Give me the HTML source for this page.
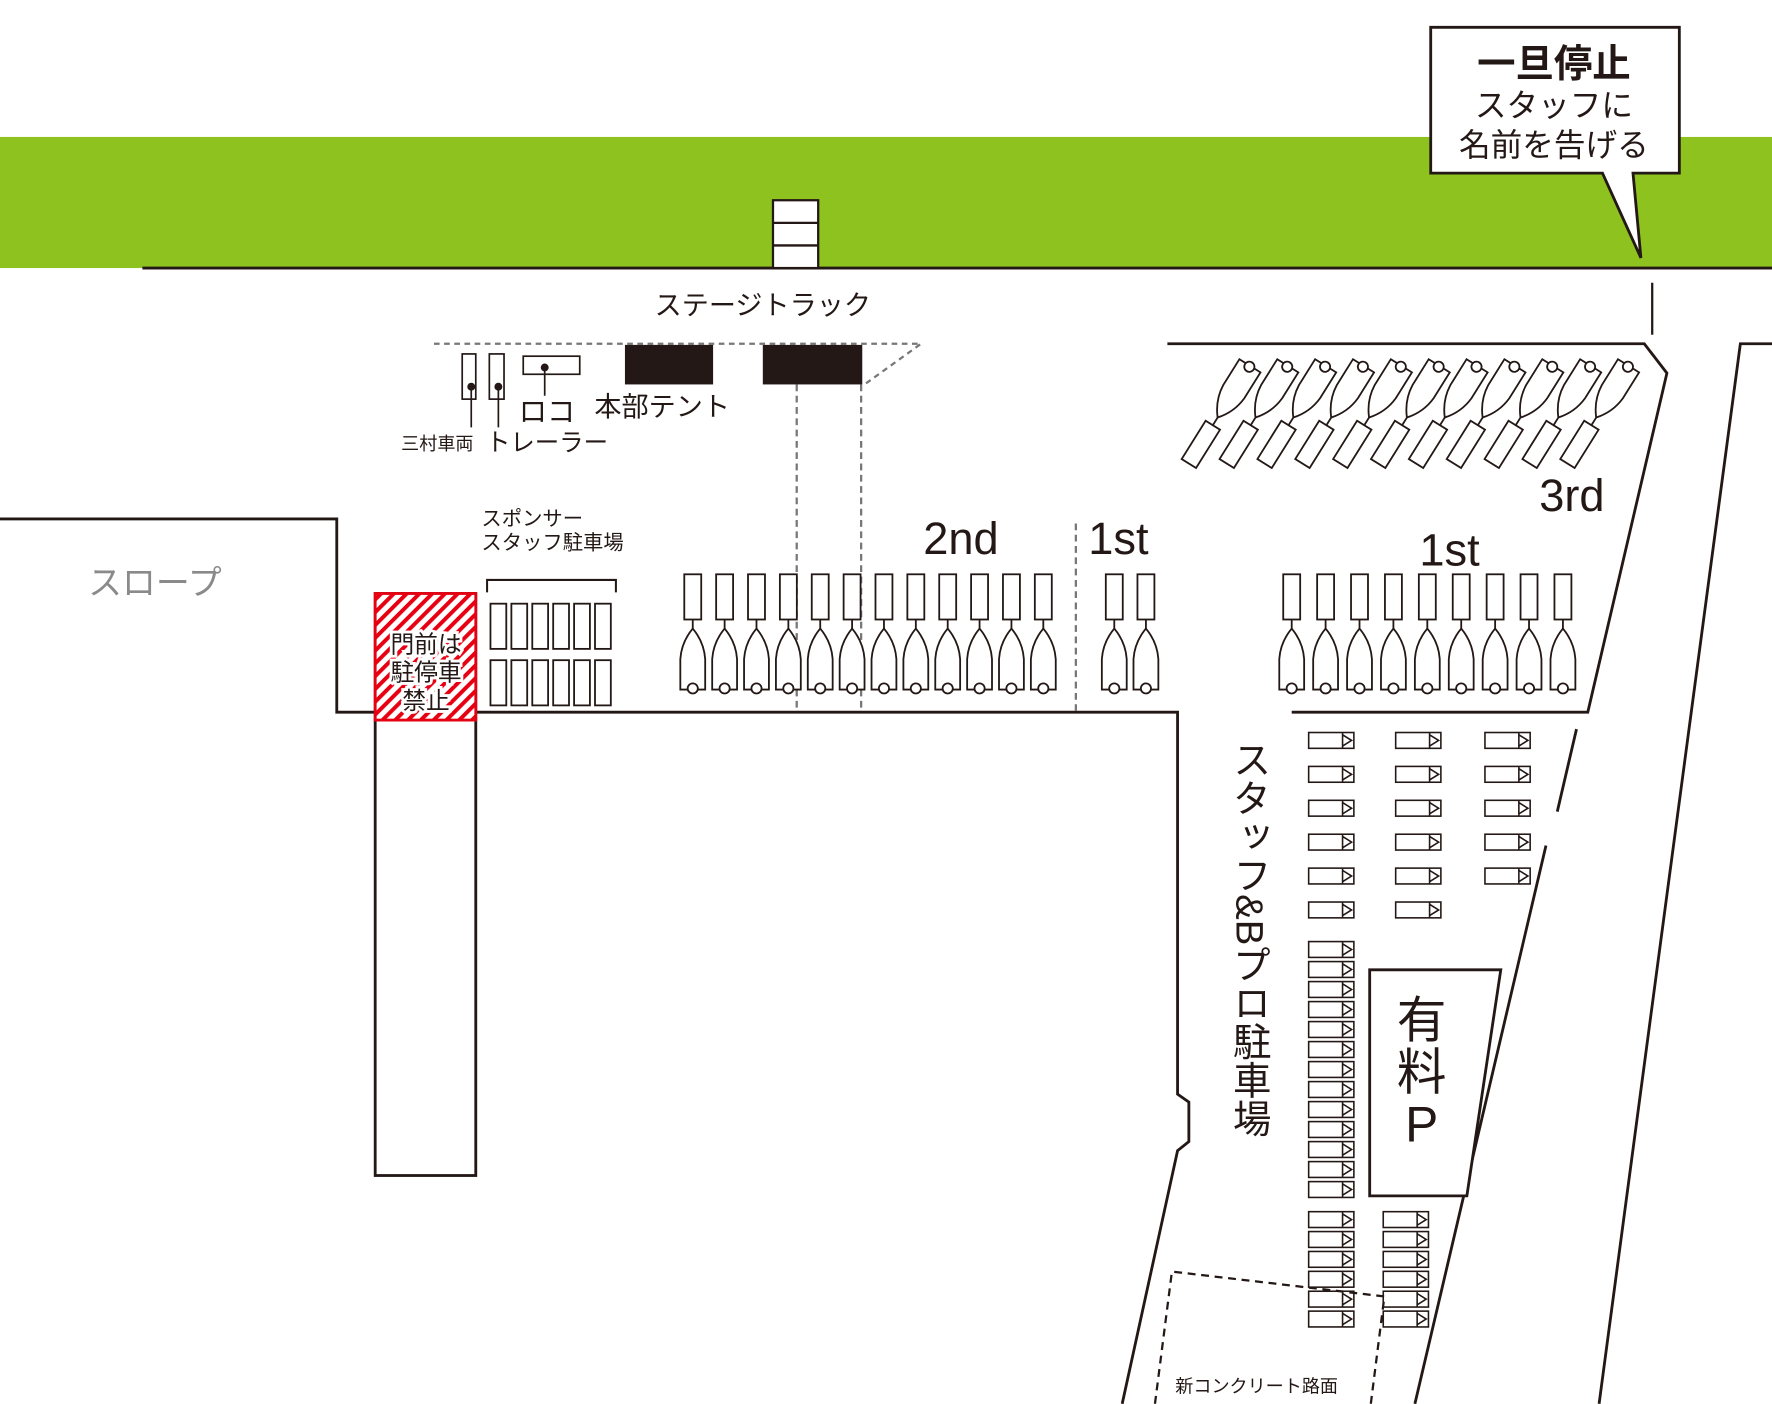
<!DOCTYPE html>
<html><head><meta charset="utf-8">
<style>
html,body{margin:0;padding:0;background:#fff;}
svg{display:block;}
text{font-family:"Liberation Sans","Noto Sans CJK JP",sans-serif;fill:#231815;}
</style></head>
<body>
<svg id="s" width="1772" height="1404" viewBox="0 0 1568 1242" xmlns="http://www.w3.org/2000/svg">
<defs>
<pattern id="hatch" width="8" height="8" patternUnits="userSpaceOnUse" patternTransform="rotate(45)">
<rect width="8" height="8" fill="#fff"/><rect width="3.5" height="8" fill="#e60012"/>
</pattern>
<g id="car" fill="#fff" stroke="#231815" stroke-width="1.6">
<rect x="-7.5" y="0" width="15" height="40"/>
<line x1="0" y1="40" x2="0" y2="48"/>
<path d="M0,48 Q-10,60 -11,75 L-11,102 L11,102 L11,75 Q10,60 0,48 Z"/>
<circle cx="0" cy="101" r="4.5"/>
</g>
<g id="sp" fill="#fff" stroke="#231815" stroke-width="1.4">
<rect x="0" y="0" width="40" height="14"/>
<path d="M30,0 V14 M30,2 L38,7 L30,12"/>
</g>
</defs>
<rect x="0" y="121" width="1568" height="116" fill="#8dc21f"/>
<line x1="126" y1="237" x2="1568" y2="237" stroke="#231815" stroke-width="2.5"/>
<rect x="684" y="177" width="40" height="60" fill="#fff" stroke="#231815" stroke-width="2"/>
<line x1="684" y1="197" x2="724" y2="197" stroke="#231815" stroke-width="2"/>
<line x1="684" y1="217" x2="724" y2="217" stroke="#231815" stroke-width="2"/>

<path d="M1266,24 H1486 V153 H1445 L1452,228 L1418,153 H1266 Z" fill="#fff" stroke="#231815" stroke-width="2.5"/>
<text x="1375" y="68" font-size="34" font-weight="bold" text-anchor="middle">一旦停止</text>
<text x="1375" y="103" font-size="28" text-anchor="middle">スタッフに</text>
<text x="1375" y="138" font-size="28" text-anchor="middle">名前を告げる</text>
<line x1="1462" y1="250" x2="1462" y2="296" stroke="#231815" stroke-width="2"/>

<text x="675" y="278" font-size="24" text-anchor="middle">ステージトラック</text>
<path d="M384,304 H815 L765,340" fill="none" stroke="#777" stroke-width="2" stroke-dasharray="5,4"/>
<line x1="705" y1="340" x2="705" y2="630" stroke="#777" stroke-width="2" stroke-dasharray="6,4"/>
<line x1="762" y1="340" x2="762" y2="630" stroke="#777" stroke-width="2" stroke-dasharray="6,4"/>
<rect x="553" y="305" width="78" height="35" fill="#231815"/>
<rect x="675" y="305" width="88" height="35" fill="#231815"/>

<g fill="#fff" stroke="#231815" stroke-width="1.5">
<rect x="409" y="313" width="12" height="40"/><rect x="433" y="313" width="13" height="40"/>
<rect x="463" y="315" width="50" height="16"/>
<line x1="417" y1="342" x2="417" y2="378"/><line x1="441" y1="342" x2="441" y2="378"/><line x1="482" y1="325" x2="482" y2="350"/>
</g>
<circle cx="417" cy="342" r="3.5" fill="#231815"/><circle cx="441" cy="342" r="3.5" fill="#231815"/><circle cx="482" cy="325" r="3.5" fill="#231815"/>
<text x="459" y="373" font-size="25">ロコ</text>
<text x="526" y="368" font-size="24">本部テント</text>
<text x="355" y="398" font-size="16">三村車両</text>
<text x="430" y="399" font-size="22" textLength="108" lengthAdjust="spacingAndGlyphs">トレーラー</text>

<path d="M0,459 H298 V630 H1042 V968 L1052,975 V1010 L1042,1018 L993,1242" fill="none" stroke="#231815" stroke-width="2.5"/>
<rect x="332" y="525" width="89" height="515" fill="#fff" stroke="#231815" stroke-width="2.5"/>
<rect x="332" y="525" width="89" height="112" fill="url(#hatch)" stroke="#e60012" stroke-width="2.5"/>
<g font-size="21" text-anchor="middle" stroke="#fff" stroke-width="5" paint-order="stroke">
<text x="377" y="577">門前は</text><text x="377" y="602">駐停車</text><text x="377" y="627">禁止</text></g>
<text x="78" y="526" font-size="30" style="fill:#8a8a8a">スロープ</text>
<text x="426" y="465" font-size="18">スポンサー</text>
<text x="426" y="486" font-size="18">スタッフ駐車場</text>
<path d="M431,524 V513 H545 V524" fill="none" stroke="#231815" stroke-width="1.8"/>
<g id="spon" fill="#fff" stroke="#231815" stroke-width="1.6"></g>

<line x1="952" y1="463" x2="952" y2="630" stroke="#777" stroke-width="2" stroke-dasharray="6,4"/>
<text x="817" y="490" font-size="40">2nd</text>
<text x="963" y="490" font-size="40">1st</text>
<text x="1256" y="500" font-size="40">1st</text>
<text x="1362" y="452" font-size="40">3rd</text>
<g id="cars"></g>

<path d="M1033,304 H1455 L1475,330 L1405,630 H1143" fill="none" stroke="#231815" stroke-width="2.5"/>
<path d="M1568,304 H1540 L1415,1242" fill="none" stroke="#231815" stroke-width="2.5"/>
<line x1="1395" y1="645" x2="1378" y2="718" stroke="#231815" stroke-width="2.5"/>
<line x1="1368" y1="748" x2="1252" y2="1242" stroke="#231815" stroke-width="2.5"/>
<g id="staff"></g>
<text font-size="34" style="writing-mode:vertical-rl" x="1105" y="655">スタッフ&amp;Bプロ駐車場</text>
<path d="M1212,858 H1328 L1298,1058 H1212 Z" fill="#fff" stroke="#231815" stroke-width="2.5"/>
<text x="1258" y="918" font-size="44" text-anchor="middle">有</text>
<text x="1258" y="964" font-size="44" text-anchor="middle">料</text>
<text x="1258" y="1010" font-size="44" text-anchor="middle">P</text>
<path d="M1022,1242 L1037,1125 L1225,1147 L1213,1242" fill="none" stroke="#231815" stroke-width="2" stroke-dasharray="7,5"/>
<text x="1040" y="1232" font-size="16">新コンクリート路面</text>
</svg>
<script>
var NS="http://www.w3.org/2000/svg";
function use(parent,id,tr){var u=document.createElementNS(NS,"use");u.setAttribute("href","#"+id);u.setAttribute("transform",tr);document.getElementById(parent).appendChild(u);}
var sp=document.getElementById("spon");
for(var r=0;r<2;r++)for(var i=0;i<6;i++){var e=document.createElementNS(NS,"rect");e.setAttribute("x",434+i*18.5);e.setAttribute("y",534+r*50);e.setAttribute("width",14);e.setAttribute("height",40);sp.appendChild(e);}
for(var i=0;i<12;i++)use("cars","car","translate("+(613+i*28.2)+",508)");
use("cars","car","translate(986,508)");use("cars","car","translate(1014,508)");
for(var i=0;i<9;i++)use("cars","car","translate("+(1143+i*30)+",508)");
for(var i=0;i<11;i++)use("cars","car","translate("+(1052+i*33.5)+",410) rotate(212)");
var cols=[[1158,6],[1235,6],[1314,5]];
cols.forEach(function(c){for(var i=0;i<c[1];i++)use("staff","sp","translate("+c[0]+","+(648+i*30)+")");});
for(var i=0;i<13;i++)use("staff","sp","translate(1158,"+(833+i*17.7)+")");
for(var i=0;i<6;i++){use("staff","sp","translate(1158,"+(1072+i*17.6)+")");use("staff","sp","translate(1224,"+(1072+i*17.6)+")");}
</script>
</body></html>
